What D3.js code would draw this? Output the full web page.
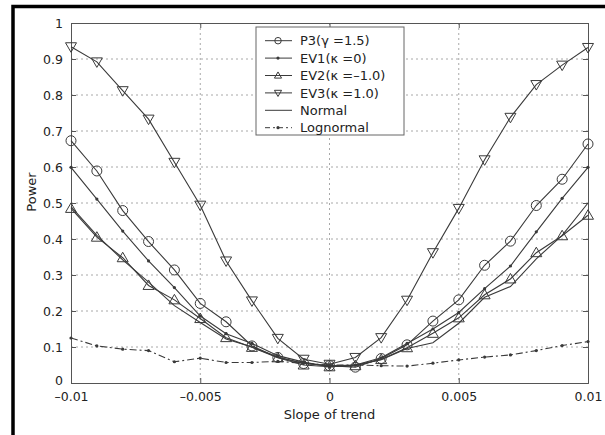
<!DOCTYPE html>
<html>
<head>
<meta charset="utf-8">
<script src="https://cdn.jsdelivr.net/npm/d3@7"></script>
<style>
  body { margin: 0; background: #fff; }
  text { font-family: "DejaVu Sans", sans-serif; fill: #222; }
</style>
</head>
<body>
<div class="chart"></div>
<script>
// data
var slopes = [-0.01, -0.009, -0.008, -0.007, -0.006, -0.005, -0.004, -0.003, -0.002, -0.001, 0,
  0.001, 0.002, 0.003, 0.004, 0.005, 0.006, 0.007, 0.008, 0.009, 0.01];
var p3 = [0.673, 0.589, 0.479, 0.393, 0.314, 0.221, 0.170, 0.103, 0.071, 0.054, 0.048,
  0.044, 0.068, 0.106, 0.172, 0.231, 0.327, 0.394, 0.493, 0.566, 0.664];
var ev1 = [0.599, 0.511, 0.422, 0.339, 0.265, 0.186, 0.137, 0.110, 0.076, 0.058, 0.045,
  0.050, 0.070, 0.110, 0.150, 0.196, 0.262, 0.325, 0.420, 0.513, 0.599];
var ev2 = [0.485, 0.405, 0.348, 0.271, 0.231, 0.179, 0.126, 0.099, 0.070, 0.050, 0.045,
  0.048, 0.065, 0.098, 0.138, 0.181, 0.245, 0.289, 0.362, 0.409, 0.466];
var ev3 = [0.934, 0.892, 0.812, 0.733, 0.613, 0.494, 0.339, 0.228, 0.124, 0.066, 0.052,
  0.071, 0.126, 0.230, 0.362, 0.485, 0.620, 0.738, 0.829, 0.883, 0.932];
var normal = [0.490, 0.410, 0.342, 0.280, 0.215, 0.168, 0.122, 0.100, 0.072, 0.055, 0.048,
  0.050, 0.065, 0.096, 0.112, 0.166, 0.238, 0.268, 0.345, 0.410, 0.500];
var lognormal = [0.125, 0.103, 0.094, 0.090, 0.059, 0.069, 0.057, 0.057, 0.060, 0.055, 0.050,
  0.050, 0.048, 0.047, 0.055, 0.064, 0.072, 0.078, 0.090, 0.104, 0.115];

var xTicks = [-0.01, -0.005, 0, 0.005, 0.01];
var xTickLabels = ["\u20130.01", "\u20130.005", "0", "0.005", "0.01"];
var yTicks = [0, 0.1, 0.2, 0.3, 0.4, 0.5, 0.6, 0.7, 0.8, 0.9, 1];
var yTickLabels = ["0", "0.1", "0.2", "0.3", "0.4", "0.5", "0.6", "0.7", "0.8", "0.9", "1"];

var seriesNames = ["P3(\u03b3 =1.5)", "EV1(\u03ba =0)", "EV2(\u03ba =\u20131.0)", "EV3(\u03ba =1.0)", "Normal", "Lognormal"];
var seriesValues = [p3, ev1, ev2, ev3, normal, lognormal];
var seriesMarkers = ["circle", "dot", "up", "down", "none", "dot"];

var svgWidth = 605;
var svgHeight = 435;
var margin = { top: 23, right: 17, bottom: 52, left: 71 },
  chartWidth = svgWidth - margin.left - margin.right,
  chartHeight = svgHeight - margin.top - margin.bottom;

var ink = "#3a3a3a";

var svg = d3.select(".chart").append("svg")
  .attr("width", svgWidth)
  .attr("height", svgHeight);

// scanned page edge: thick black frame on top and left
svg.append("path")
  .attr("d", "M13,435 L13,6.5 L605,6.5")
  .attr("fill", "none")
  .attr("stroke", "#000")
  .attr("stroke-width", 3.5);

var chartGroup = svg.append("g")
  .attr("transform", `translate(${margin.left}, ${margin.top})`);

var x = d3.scaleLinear().domain([-0.01, 0.01]).range([0, chartWidth]);
var y = d3.scaleLinear().domain([0, 1]).range([chartHeight, 0]);

// dotted grid
chartGroup.append("g").selectAll("line")
  .data(yTicks.slice(1, -1))
  .enter().append("line")
  .attr("x1", 0).attr("x2", chartWidth)
  .attr("y1", d => y(d)).attr("y2", d => y(d))
  .attr("stroke", "#a8a8a8").attr("stroke-dasharray", "2,3");
chartGroup.append("g").selectAll("line")
  .data(xTicks.slice(1, -1))
  .enter().append("line")
  .attr("y1", 0).attr("y2", chartHeight)
  .attr("x1", d => x(d)).attr("x2", d => x(d))
  .attr("stroke", "#a8a8a8").attr("stroke-dasharray", "2,3");

// axes (inside ticks, all four sides)
var bottomAxis = d3.axisBottom(x).tickValues(xTicks).tickSize(-5).tickPadding(9)
  .tickFormat((d, i) => xTickLabels[i]);
var leftAxis = d3.axisLeft(y).tickValues(yTicks).tickSize(-5).tickPadding(8)
  .tickFormat((d, i) => yTickLabels[i]);
var topAxis = d3.axisTop(x).tickValues(xTicks).tickSize(-5).tickFormat("");
var rightAxis = d3.axisRight(y).tickValues(yTicks).tickSize(-5).tickFormat("");

var gB = chartGroup.append("g").attr("transform", `translate(0, ${chartHeight})`).call(bottomAxis);
var gL = chartGroup.append("g").call(leftAxis);
var gT = chartGroup.append("g").call(topAxis);
var gR = chartGroup.append("g").attr("transform", `translate(${chartWidth}, 0)`).call(rightAxis);

[gB, gL, gT, gR].forEach(function(g) {
  g.select(".domain").attr("stroke", "#555");
  g.selectAll(".tick line").attr("stroke", "#555");
  g.selectAll("text").style("font-size", "12.5px").attr("fill", "#222")
    .style("font-family", "'DejaVu Sans', sans-serif");
});
// the "0" of the y axis sits just above the x labels, as in the original
gL.selectAll(".tick text").filter(d => d === 0).attr("dy", "0.1em");

// marker drawing
function drawMarker(g, kind, cx, cy, s) {
  if (kind === "circle") {
    g.append("circle").attr("cx", cx).attr("cy", cy).attr("r", 5 * s)
      .attr("fill", "none").attr("stroke", ink);
  } else if (kind === "dot") {
    g.append("circle").attr("cx", cx).attr("cy", cy).attr("r", 1.6)
      .attr("fill", ink);
  } else if (kind === "up") {
    g.append("path").attr("d", `M${cx},${cy - 5.5 * s} L${cx + 5.5 * s},${cy + 4 * s} L${cx - 5.5 * s},${cy + 4 * s} Z`)
      .attr("fill", "none").attr("stroke", ink);
  } else if (kind === "down") {
    g.append("path").attr("d", `M${cx},${cy + 5.5 * s} L${cx + 5.5 * s},${cy - 4 * s} L${cx - 5.5 * s},${cy - 4 * s} Z`)
      .attr("fill", "none").attr("stroke", ink);
  }
}

var line = d3.line()
  .x((d, i) => x(slopes[i]))
  .y(d => y(d));

var seriesGroup = chartGroup.append("g");
seriesValues.forEach(function(vals, k) {
  seriesGroup.append("path")
    .attr("d", line(vals))
    .attr("fill", "none")
    .attr("stroke", ink)
    .attr("stroke-width", 1.1)
    .attr("stroke-dasharray", k === 5 ? "7,3,2,3" : null);
});
seriesValues.forEach(function(vals, k) {
  var mg = seriesGroup.append("g");
  vals.forEach(function(v, i) {
    drawMarker(mg, seriesMarkers[k], x(slopes[i]), y(v), 1);
  });
});

// legend
var legend = svg.append("g").attr("transform", "translate(256, 27)");
legend.append("rect")
  .attr("width", 148).attr("height", 108)
  .attr("fill", "#fff").attr("stroke", "#666");
seriesNames.forEach(function(name, k) {
  var ly = 13.7 + k * 17.4;
  legend.append("line")
    .attr("x1", 9).attr("x2", 36).attr("y1", ly).attr("y2", ly)
    .attr("stroke", ink)
    .attr("stroke-dasharray", k === 5 ? "5,3,2,3" : null);
  drawMarker(legend, seriesMarkers[k], 22, ly, 0.65);
  legend.append("text")
    .attr("x", 44).attr("y", ly).attr("dy", "0.36em")
    .style("font-size", "13px")
    .text(name);
});

// axis labels
svg.append("text")
  .attr("transform", `translate(${margin.left + chartWidth / 2}, 419)`)
  .attr("text-anchor", "middle")
  .style("font-size", "13px")
  .text("Slope of trend");

svg.append("text")
  .attr("transform", "translate(36, 192) rotate(-90)")
  .attr("text-anchor", "middle")
  .style("font-size", "13px")
  .text("Power");
</script>
</body>
</html>
